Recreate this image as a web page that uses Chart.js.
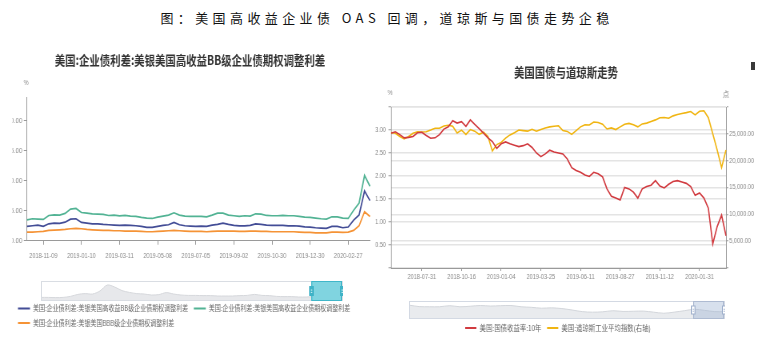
<!DOCTYPE html>
<html><head><meta charset="utf-8">
<script src="https://cdn.jsdelivr.net/npm/chart.js@4.4.1/dist/chart.umd.min.js"></script>
<style>
html,body{margin:0;padding:0;background:#fff;width:774px;height:342px;overflow:hidden;position:relative;}
#title{position:absolute;left:0;top:8px;width:774px;text-align:center;font:13px/20px "Noto Sans CJK SC",sans-serif;letter-spacing:4.4px;color:#111;white-space:nowrap;}
canvas{position:absolute;transform-origin:0 0;}
#cL{left:0;top:40px;transform:scaleX(0.8);}
#cR{left:342px;top:50px;transform:scaleX(0.8);}
#sL{left:41px;top:281px;}
#sR{left:409px;top:301px;}
#icon{position:absolute;left:751px;top:62px;width:4px;height:8px;background:#3a3a3a;}
</style></head><body>
<div id="title">图：美国高收益企业债 OAS 回调，道琼斯与国债走势企稳</div>
<canvas id="cL" width="475" height="297"></canvas>
<canvas id="cR" width="540" height="292"></canvas>
<canvas id="sL" width="302" height="20"></canvas>
<canvas id="sR" width="316" height="18"></canvas>
<div id="icon"></div>
<script>
// ---------- Left chart data ----------
const leftDates = ['2018-10-19','2018-10-26','2018-11-02','2018-11-09','2018-11-19','2018-11-28','2018-12-06','2018-12-14','2018-12-24','2019-01-02',
'2019-01-10','2019-01-18','2019-01-28','2019-02-05','2019-02-13','2019-02-22','2019-03-01','2019-03-11','2019-03-19','2019-03-27',
'2019-04-04','2019-04-12','2019-04-22','2019-04-30','2019-05-08','2019-05-16','2019-05-24','2019-06-03','2019-06-11','2019-06-19',
'2019-06-27','2019-07-05','2019-07-15','2019-07-23','2019-07-31','2019-08-08','2019-08-16','2019-08-26','2019-09-02','2019-09-10',
'2019-09-18','2019-09-26','2019-10-04','2019-10-14','2019-10-22','2019-10-30','2019-11-07','2019-11-15','2019-11-25','2019-12-04',
'2019-12-12','2019-12-20','2019-12-30','2020-01-08','2020-01-16','2020-01-24','2020-02-03','2020-02-11','2020-02-19','2020-02-27',
'2020-03-06','2020-03-16','2020-03-23','2020-03-31'];
const leftTickLabels = ['2018-11-09','2019-01-10','2019-03-11','2019-05-08','2019-07-05','2019-09-02','2019-10-30','2019-12-30','2020-02-27'];
const spreadBB = [2.40,2.50,2.60,2.40,2.83,2.94,2.89,3.10,3.60,3.67,
3.06,2.94,2.83,2.83,2.72,2.67,2.61,2.56,2.61,2.56,
2.50,2.39,2.22,2.22,2.39,2.56,2.67,3.06,2.67,2.50,
2.44,2.39,2.44,2.39,2.61,2.72,2.94,2.72,2.56,2.50,
2.50,2.56,2.83,2.72,2.61,2.56,2.56,2.56,2.50,2.50,
2.44,2.33,2.28,2.17,2.11,2.06,2.39,2.39,2.17,2.30,
3.45,4.30,8.30,6.70];
const spreadHY = [3.50,3.67,3.61,3.56,4.22,4.33,4.28,4.56,5.28,5.39,
4.72,4.61,4.50,4.44,4.39,4.22,4.28,4.17,4.22,4.11,
4.06,3.89,3.78,3.72,3.94,4.11,4.28,4.67,4.28,4.11,
4.06,4.06,4.06,4.00,4.28,4.61,4.61,4.28,4.17,4.06,
4.17,4.11,4.50,4.44,4.22,4.17,4.17,4.22,4.17,4.17,
4.06,3.94,3.89,3.78,3.67,3.61,4.00,4.00,3.78,3.72,
5.10,6.30,10.90,9.10];
const spreadBBB = [1.44,1.44,1.50,1.56,1.72,1.78,1.83,1.89,2.00,2.06,
2.00,1.89,1.83,1.78,1.72,1.72,1.67,1.67,1.61,1.61,
1.61,1.56,1.50,1.50,1.56,1.61,1.67,1.72,1.67,1.61,
1.56,1.56,1.56,1.50,1.56,1.61,1.61,1.61,1.61,1.56,
1.56,1.61,1.61,1.56,1.56,1.50,1.50,1.50,1.50,1.50,
1.44,1.39,1.39,1.33,1.33,1.33,1.44,1.44,1.39,1.44,
1.72,2.50,4.85,4.05];
const leftOverview = [3.6,3.6,3.4,3.6,4.6,6.6,7.4,7.0,10.0,16.0,
14.0,10.4,8.6,7.4,7.0,6.0,6.4,8.4,7.0,6.0,
5.6,5.6,5.4,5.4,5.0,5.0,5.0,5.4,5.6,6.6,
5.6,5.4,4.6,4.4,4.4,4.0,4.0,4.4,4.8,6.0,
9.0,10.0];
const leftWindow = [0.895, 1.0];

// ---------- Right chart data ----------
const rightDates = ['2018-06-01','2018-06-11','2018-06-19','2018-06-27','2018-07-06','2018-07-16','2018-07-24','2018-07-31','2018-08-09','2018-08-17',
'2018-08-27','2018-09-05','2018-09-13','2018-09-21','2018-10-01','2018-10-09','2018-10-16','2018-10-25','2018-11-02','2018-11-12',
'2018-11-20','2018-11-30','2018-12-10','2018-12-18','2018-12-27','2019-01-04','2019-01-14','2019-01-23','2019-01-31','2019-02-11',
'2019-02-20','2019-02-28','2019-03-08','2019-03-18','2019-03-25','2019-04-03','2019-04-11','2019-04-22','2019-04-30','2019-05-08',
'2019-05-16','2019-05-24','2019-06-03','2019-06-11','2019-06-20','2019-06-28','2019-07-09','2019-07-17','2019-07-25','2019-08-02',
'2019-08-12','2019-08-20','2019-08-27','2019-09-05','2019-09-13','2019-09-23','2019-10-01','2019-10-09','2019-10-17','2019-10-25',
'2019-11-04','2019-11-12','2019-11-21','2019-12-02','2019-12-10','2019-12-18','2019-12-27','2020-01-07','2020-01-15','2020-01-23',
'2020-01-31','2020-02-12','2020-02-24','2020-03-09','2020-03-16','2020-03-23','2020-03-31'];
const rightTickLabels = ['2018-07-31','2018-10-16','2019-01-04','2019-03-25','2019-06-11','2019-08-27','2019-11-12','2020-01-31'];
const ust10y = [2.93,2.96,2.90,2.83,2.84,2.86,2.94,2.95,2.88,2.82,
2.83,2.90,3.02,3.07,3.20,3.15,3.18,3.08,3.22,3.12,
3.03,2.93,2.83,2.75,2.60,2.70,2.74,2.70,2.67,2.64,
2.66,2.70,2.62,2.50,2.42,2.48,2.56,2.52,2.50,2.48,
2.37,2.18,2.12,2.08,2.02,1.99,2.08,2.05,1.98,1.72,
1.56,1.52,1.48,1.75,1.72,1.65,1.52,1.72,1.77,1.80,
1.90,1.78,1.74,1.82,1.88,1.90,1.87,1.84,1.77,1.58,
1.63,1.52,1.30,0.52,0.90,1.15,0.70];
const dowJones = [25250,25100,24500,24050,24500,25100,25400,25350,25400,25700,
26050,26050,26450,26600,26400,25150,25700,24900,25800,25500,
24900,25300,24500,21800,23000,23400,24200,24800,25200,25700,
25600,25500,25850,25500,25800,26100,26300,26400,26500,25600,
25450,24900,25600,26300,26700,26650,27200,27100,26800,25900,
26100,25800,26300,26800,26950,26700,26300,26850,27000,27300,
27600,28000,28050,27900,28350,28600,28800,28950,29150,28530,
29200,29300,28000,25000,22000,18700,22000];
const rightOverview = [3.08,2.76,2.72,2.72,2.96,2.72,2.84,3.0,2.88,2.96,3.0,2.72,2.6,2.4,2.48,2.32,
2.0,1.64,1.52,1.6,1.84,1.68,1.72,1.76,1.52,1.28,1.52,1.84,2.16,1.92,1.64,1.64];
const rightWindow = [0.899, 1.0];

// ---------- styling ----------
const NUMF = "'Liberation Sans','Noto Sans CJK SC',sans-serif";
const CJKF = "'Noto Sans CJK SC','Liberation Sans',sans-serif";
const COL = {blue:'#434d96', green:'#52b394', orange:'#f59336', red:'#d13b40', yellow:'#f0b512',
  axis:'#9a9a9a', tick:'#8a8a8a', grid:'#e4e4e4', title:'#333'};

const textPlugin = {
  id: 'extraText',
  afterDraw(chart, args, opts) {
    const ctx = chart.ctx, a = chart.chartArea;
    (opts.items || []).forEach(it => {
      ctx.save();
      ctx.font = it.font;
      ctx.fillStyle = it.color;
      ctx.textAlign = it.align || 'center';
      ctx.textBaseline = 'middle';
      let x;
      if (it.anchor === 'left') x = a.left + it.dx;
      else if (it.anchor === 'right') x = a.right + it.dx;
      else x = chart.width * it.fx;
      ctx.fillText(it.text, x, a.top + it.dy);
      ctx.restore();
    });
  }
};

const lineLegendLabels = chart =>
  Chart.defaults.plugins.legend.labels.generateLabels(chart).map(l => Object.assign({}, l, {lineWidth: 0, fillStyle: l.strokeStyle}));

// ---------- Left main chart ----------
new Chart(document.getElementById('cL'), {
  type: 'line',
  data: {
    labels: leftDates,
    datasets: [
      {label: '美国:企业债利差:美银美国高收益BB级企业债期权调整利差', data: spreadBB, borderColor: COL.blue, backgroundColor: COL.blue},
      {label: '美国:企业债利差:美银美国高收益企业债期权调整利差', data: spreadHY, borderColor: COL.green, backgroundColor: COL.green},
      {label: '美国:企业债利差:美银美国BBB级企业债期权调整利差', data: spreadBBB, borderColor: COL.orange, backgroundColor: COL.orange}
    ]
  },
  options: {
    responsive: false, animation: false, devicePixelRatio: 1,
    layout: {padding: {top: 57, left: 15.5, right: 12.5, bottom: 0.25}},
    elements: {point: {radius: 0}, line: {borderWidth: 1.7, tension: 0}},
    plugins: {
      legend: {position: 'bottom', align: 'start',
        labels: {boxWidth: 15, boxHeight: 2, padding: 7, color: '#666', font: {size: 7.5, family: CJKF}, generateLabels: lineLegendLabels}},
      tooltip: {enabled: false},
      extraText: {items: [
        {text: '美国:企业债利差:美银美国高收益BB级企业债期权调整利差', fx: 0.5, dy: -37, font: "bold 13px " + CJKF, color: COL.title},
        {text: '%', anchor: 'left', dx: -1.25, dy: -14, font: "7px " + NUMF, color: COL.tick}
      ]}
    },
    scales: {
      x: {
        border: {color: COL.axis},
        grid: {display: true, drawOnChartArea: false, tickLength: 4, color: COL.axis},
        ticks: {autoSkip: false, maxRotation: 0, padding: 6.8, color: COL.tick, font: {size: 7, family: NUMF}},
        afterBuildTicks: ax => { ax.ticks = ax.ticks.filter(t => leftTickLabels.includes(leftDates[t.value])); },
        afterFit: ax => { ax.height = 57; }
      },
      y: {
        min: 0, max: 24,
        border: {color: COL.axis},
        grid: {display: true, drawOnChartArea: false, tickLength: 4, color: COL.axis},
        ticks: {stepSize: 5, padding: 1.8, color: COL.tick, font: {size: 7.5, family: NUMF}, callback: v => v.toFixed(2)},
        afterBuildTicks: ax => { ax.ticks = ax.ticks.filter(t => t.value % 5 === 0); },
        afterFit: ax => { ax.width = 18.25; }
      }
    }
  },
  plugins: [textPlugin]
});

// ---------- Right main chart ----------
new Chart(document.getElementById('cR'), {
  type: 'line',
  data: {
    labels: rightDates,
    datasets: [
      {label: '美国:国债收益率:10年', data: ust10y, borderColor: COL.red, backgroundColor: COL.red, yAxisID: 'y'},
      {label: '美国:道琼斯工业平均指数(右轴)', data: dowJones, borderColor: COL.yellow, backgroundColor: COL.yellow, yAxisID: 'y2'}
    ]
  },
  options: {
    responsive: false, animation: false, devicePixelRatio: 1,
    layout: {padding: {top: 57, left: 0, right: 0, bottom: 0}},
    elements: {point: {radius: 0}, line: {borderWidth: 1.6, tension: 0}},
    plugins: {
      legend: {position: 'bottom', align: 'center',
        labels: {boxWidth: 14, boxHeight: 2, padding: 7, color: '#666', font: {size: 8, family: CJKF}, generateLabels: lineLegendLabels}},
      tooltip: {enabled: false},
      extraText: {items: [
        {text: '美国国债与道琼斯走势', fx: 0.5185, dy: -35, font: "bold 13px " + CJKF, color: COL.title},
        {text: '%', anchor: 'left', dx: -1.25, dy: -14, font: "7px " + NUMF, color: COL.tick},
        {text: '点', anchor: 'right', dx: 0, dy: -13, font: "8px " + CJKF, color: COL.tick}
      ]}
    },
    scales: {
      x: {
        border: {color: COL.axis},
        grid: {display: true, drawOnChartArea: false, tickLength: 3, color: COL.axis},
        ticks: {autoSkip: false, maxRotation: 0, padding: 1.8, color: COL.tick, font: {size: 7, family: NUMF}},
        afterBuildTicks: ax => { ax.ticks = ax.ticks.filter(t => rightTickLabels.includes(rightDates[t.value])); },
        afterFit: ax => { ax.height = 49; }
      },
      y: {
        position: 'left', min: 0, max: 3.5,
        border: {color: COL.axis},
        grid: {color: COL.grid, lineWidth: 1.5, tickLength: 3, tickColor: COL.axis, tickWidth: 1},
        ticks: {stepSize: 0.5, padding: 3.25, color: COL.tick, font: {size: 7, family: NUMF},
          callback: v => (v === 0 || v === 3.5) ? '' : v.toFixed(2)},
        afterFit: ax => { ax.width = 61.25; }
      },
      y2: {
        position: 'right', min: 0, max: 30000,
        border: {color: COL.axis},
        grid: {color: COL.grid, lineWidth: 1.5, tickLength: 3, tickColor: COL.axis, tickWidth: 1},
        ticks: {stepSize: 5000, padding: 1, color: COL.tick, font: {size: 7, family: NUMF},
          callback: v => (v === 0 || v === 30000) ? '' : v.toLocaleString('en-US', {minimumFractionDigits: 2, maximumFractionDigits: 2})},
        afterFit: ax => { ax.width = 60; }
      }
    }
  },
  plugins: [textPlugin]
});

// ---------- Data-zoom overview sliders ----------
const sliderPlugin = {
  id: 'sliderWindow',
  afterDraw(chart, args, o) {
    const ctx = chart.ctx, a = chart.chartArea;
    ctx.save();
    ctx.strokeStyle = o.frame; ctx.lineWidth = 1;
    ctx.strokeRect(a.left + 0.5, a.top + 0.5, a.right - a.left - 1, a.bottom - a.top - 1);
    const x0 = a.left + o.range[0] * (a.right - a.left);
    const x1 = a.left + o.range[1] * (a.right - a.left) - 1;
    ctx.fillStyle = o.fill;
    ctx.fillRect(x0, a.top, x1 - x0, a.bottom - a.top);
    ctx.strokeStyle = o.border;
    ctx.strokeRect(x0 + 0.5, a.top + 0.5, x1 - x0 - 1, a.bottom - a.top - 1);
    const hh = o.handleH, hy = (a.top + a.bottom) / 2 - hh / 2;
    [x0, x1].forEach(x => {
      ctx.fillStyle = o.handleFill; ctx.strokeStyle = o.handleStroke;
      ctx.fillRect(x - 1.5, hy, 3.5, hh);
      ctx.strokeRect(x - 1.5, hy, 3.5, hh);
      ctx.fillStyle = o.handleMark;
      ctx.fillRect(x - 0.5, hy + hh * 0.35, 1.5, 0.8);
      ctx.fillRect(x - 0.5, hy + hh * 0.6, 1.5, 0.8);
    });
    ctx.restore();
  }
};
function makeSlider(id, values, range, max, s) {
  new Chart(document.getElementById(id), {
    type: 'line',
    data: {labels: values.map((v, i) => i), datasets: [{data: values, fill: 'origin', borderColor: s.line, backgroundColor: s.area, borderWidth: 1, pointRadius: 0, tension: 0.3}]},
    options: {
      responsive: false, animation: false, devicePixelRatio: 1,
      layout: {padding: 0},
      plugins: {legend: {display: false}, tooltip: {enabled: false},
        sliderWindow: Object.assign({range: range}, s.win)},
      scales: {x: {display: false}, y: {display: false, min: 0, max: max}}
    },
    plugins: [sliderPlugin]
  });
}
makeSlider('sL', leftOverview, leftWindow, 20, {line: '#d6d8dc', area: '#e7e8eb',
  win: {frame: '#d9dde3', fill: '#80d4e0', border: '#40b6c9', handleH: 9, handleFill: '#3fb3c7', handleStroke: '#3fb3c7', handleMark: '#ffffff'}});
makeSlider('sR', rightOverview, rightWindow, 4, {line: '#d3d6db', area: '#e9ebee',
  win: {frame: '#d3d9e3', fill: 'rgba(160,180,212,0.42)', border: '#aebbd2', handleH: 8, handleFill: '#ffffff', handleStroke: '#9fb0cc', handleMark: '#9fb0cc'}});
</script>
</body></html>
